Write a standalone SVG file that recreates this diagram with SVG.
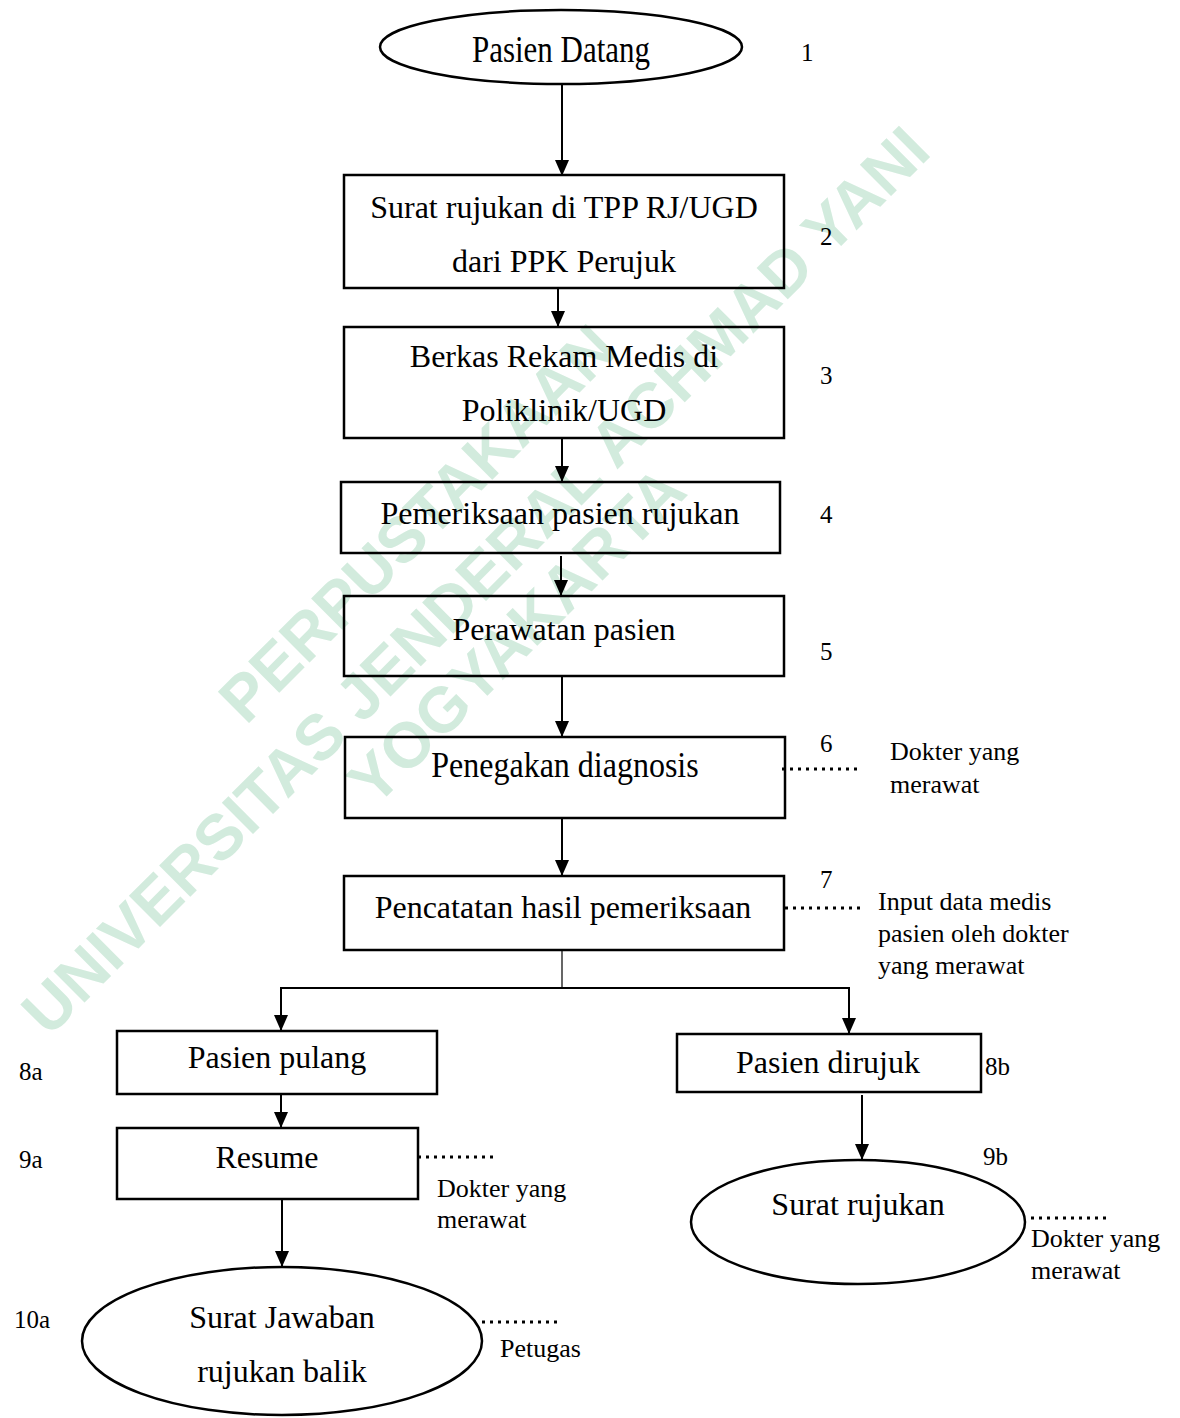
<svg xmlns="http://www.w3.org/2000/svg" width="1180" height="1418" viewBox="0 0 1180 1418">
<defs>
<style>
.wm{font-family:"Liberation Sans",Arial,sans-serif;font-weight:bold;font-size:64px;fill:#d2ebdd;text-anchor:middle}
.box{fill:none;stroke:#000;stroke-width:2.5}
.t{font-family:"Liberation Serif","Times New Roman",serif;font-size:32px;fill:#000;text-anchor:middle}
.n{font-family:"Liberation Serif","Times New Roman",serif;font-size:25px;fill:#000}
.a{font-family:"Liberation Serif","Times New Roman",serif;font-size:26px;fill:#000}
.ln{fill:none;stroke:#000;stroke-width:2}
.dot{fill:none;stroke:#000;stroke-width:3;stroke-dasharray:3 5}
</style>
<marker id="ah" viewBox="0 0 16 14" refX="16" refY="7" markerWidth="16" markerHeight="14" markerUnits="userSpaceOnUse" orient="auto">
<path d="M0,0 L16,7 L0,14 z" fill="#000"/>
</marker>
<clipPath id="clip7"><rect x="860" y="880" width="320" height="100"/></clipPath>
</defs>
<rect width="1180" height="1418" fill="#fff"/>
<g id="watermark">
<text class="wm" x="433" y="539" transform="rotate(-45 433 539)">PERPUSTAKAAN</text>
<text class="wm" x="491" y="596" transform="rotate(-45 491 596)">UNIVERSITAS JENDERAL ACHMAD YANI</text>
<text class="wm" x="532" y="651" transform="rotate(-45 532 651)">YOGYAKARTA</text>
</g>
<g id="connectors">
<line class="ln" x1="562" y1="85" x2="562" y2="176" marker-end="url(#ah)"/>
<line class="ln" x1="558" y1="288" x2="558" y2="327" marker-end="url(#ah)"/>
<line class="ln" x1="562" y1="438" x2="562" y2="482" marker-end="url(#ah)"/>
<line class="ln" x1="561" y1="556" x2="561" y2="596" marker-end="url(#ah)"/>
<line class="ln" x1="562" y1="676" x2="562" y2="737" marker-end="url(#ah)"/>
<line class="ln" x1="562" y1="818" x2="562" y2="876" marker-end="url(#ah)"/>
<line x1="562" y1="950" x2="562" y2="988" stroke="#000" stroke-width="1.2"/>
<line class="ln" x1="281" y1="988" x2="850" y2="988"/>
<line class="ln" x1="281" y1="987" x2="281" y2="1031" marker-end="url(#ah)"/>
<line class="ln" x1="849" y1="987" x2="849" y2="1034" marker-end="url(#ah)"/>
<line class="ln" x1="281" y1="1094" x2="281" y2="1128" marker-end="url(#ah)"/>
<line class="ln" x1="282" y1="1199" x2="282" y2="1267" marker-end="url(#ah)"/>
<line class="ln" x1="862" y1="1095" x2="862" y2="1160" marker-end="url(#ah)"/>
<line class="dot" x1="782" y1="769" x2="858" y2="769"/>
<line class="dot" x1="785" y1="908" x2="860" y2="908"/>
<line class="dot" x1="418" y1="1157" x2="494" y2="1157"/>
<line class="dot" x1="1031" y1="1218" x2="1107" y2="1218"/>
<line class="dot" x1="482" y1="1322" x2="557" y2="1322"/>
</g>
<g id="n1">
<ellipse class="box" cx="561" cy="47" rx="181" ry="37"/>
<text class="t" font-size="31" transform="translate(561 62) scale(1 1.2)" x="0" y="0" style="font-size:31px">Pasien Datang</text>
<text class="n" x="801" y="61">1</text>
</g>
<g id="n2">
<rect class="box" x="344" y="175" width="440" height="113"/>
<text class="t" x="564" y="218">Surat rujukan di TPP RJ/UGD</text>
<text class="t" x="564" y="272">dari PPK Perujuk</text>
<text class="n" x="820" y="245">2</text>
</g>
<g id="n3">
<rect class="box" x="344" y="327" width="440" height="111"/>
<text class="t" x="564" y="367">Berkas Rekam Medis di</text>
<text class="t" x="564" y="421">Poliklinik/UGD</text>
<text class="n" x="820" y="384">3</text>
</g>
<g id="n4">
<rect class="box" x="341" y="482" width="439" height="71"/>
<text class="t" x="560" y="524">Pemeriksaan pasien rujukan</text>
<text class="n" x="820" y="523">4</text>
</g>
<g id="n5">
<rect class="box" x="344" y="596" width="440" height="80"/>
<text class="t" x="564" y="640">Perawatan pasien</text>
<text class="n" x="820" y="660">5</text>
</g>
<g id="n6">
<rect class="box" x="345" y="737" width="440" height="81"/>
<text class="t" transform="translate(565 777) scale(1 1.1)" x="0" y="0">Penegakan diagnosis</text>
<text class="n" x="820" y="752">6</text>
<text class="a" x="890" y="760">Dokter yang</text>
<text class="a" x="890" y="793">merawat</text>
</g>
<g id="n7">
<rect class="box" x="344" y="876" width="440" height="74"/>
<text class="t" x="563" y="918">Pencatatan hasil pemeriksaan</text>
<text class="n" x="820" y="888">7</text>
<g clip-path="url(#clip7)">
<text class="a" x="878" y="910">Input data medis</text>
<text class="a" x="878" y="942">pasien oleh dokter</text>
<text class="a" x="878" y="974">yang merawat</text>
</g>
</g>
<g id="n8a">
<rect class="box" x="117" y="1031" width="320" height="63"/>
<text class="t" x="277" y="1068">Pasien pulang</text>
<text class="n" x="19" y="1080">8a</text>
</g>
<g id="n9a">
<rect class="box" x="117" y="1128" width="301" height="71"/>
<text class="t" x="267" y="1168">Resume</text>
<text class="n" x="19" y="1168">9a</text>
<text class="a" x="437" y="1197">Dokter yang</text>
<text class="a" x="437" y="1228">merawat</text>
</g>
<g id="n10a">
<ellipse class="box" cx="282" cy="1341" rx="200" ry="74"/>
<text class="t" x="282" y="1328">Surat Jawaban</text>
<text class="t" x="282" y="1382">rujukan balik</text>
<text class="n" x="14" y="1328">10a</text>
<text class="a" x="500" y="1357">Petugas</text>
</g>
<g id="n8b">
<rect class="box" x="677" y="1034" width="304" height="58"/>
<text class="t" x="828" y="1073">Pasien dirujuk</text>
<text class="n" x="985" y="1075">8b</text>
</g>
<g id="n9b">
<ellipse class="box" cx="858" cy="1222" rx="167" ry="62"/>
<text class="t" x="858" y="1215">Surat rujukan</text>
<text class="n" x="983" y="1165">9b</text>
<text class="a" x="1031" y="1247">Dokter yang</text>
<text class="a" x="1031" y="1279">merawat</text>
</g>
</svg>
